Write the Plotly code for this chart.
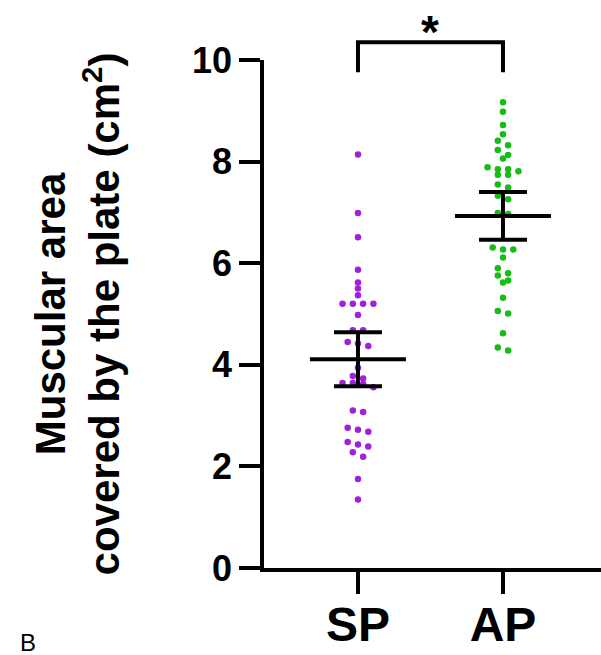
import plotly.graph_objects as go

# ---------------- data ----------------
groups = ["SP", "AP"]
sp_values = [8.14, 6.99, 6.51, 5.87, 5.62, 5.50, 5.37, 5.20, 5.20, 5.20, 5.20,
             4.98, 4.68, 4.68, 4.45, 4.42, 4.37, 3.94, 3.78, 3.73, 3.64, 3.64,
             3.62, 3.56, 3.10, 3.07, 2.76, 2.72, 2.68, 2.48, 2.43, 2.39, 2.28,
             2.19, 1.75, 1.35]
ap_values = [9.17, 8.98, 8.72, 8.54, 8.41, 8.32, 8.23, 8.13, 8.06, 7.89, 7.85,
             7.85, 7.81, 7.74, 7.74, 7.55, 7.49, 7.33, 7.26, 6.99, 6.97, 6.31,
             6.27, 6.27, 6.11, 5.90, 5.80, 5.76, 5.66, 5.62, 5.32, 5.06, 5.01,
             4.62, 4.34, 4.28]
means = [4.11, 6.93]
ci_low = [3.58, 6.46]
ci_high = [4.64, 7.40]
y_ticks = [0, 2, 4, 6, 8, 10]
significance = "*"

# ---------------- layout constants ----------------
W, H = 601, 655
M_L, M_R, M_T, M_B = 264, 0, 60, 87
X_RANGE = [-0.648, 1.676]
Y_RANGE = [0, 10]
px_per_x = (W - M_L - M_R) / (X_RANGE[1] - X_RANGE[0])
px_per_y = (H - M_T - M_B) / (Y_RANGE[1] - Y_RANGE[0])
DOT_STEP_PX = 10.3
GROUP_GAP_PX = 5.5

FONT = "Liberation Sans, Arial, Helvetica, sans-serif"
colors = ["#A020DC", "#14BE14"]


def beeswarm(values, center):
    """Group nearby values into rows and spread each row symmetrically."""
    vals = sorted(values, reverse=True)
    xs, ys = [], []
    i = 0
    while i < len(vals):
        j = i + 1
        while j < len(vals) and (vals[i] - vals[j]) * px_per_y <= GROUP_GAP_PX:
            j += 1
        row = vals[i:j]
        n = len(row)
        for k, v in enumerate(row):
            off_px = (k - (n - 1) / 2) * DOT_STEP_PX
            xs.append(center + off_px / px_per_x)
            ys.append(v)
        i = j
    return xs, ys


fig = go.Figure()
for gi, vals in enumerate([sp_values, ap_values]):
    xs, ys = beeswarm(vals, gi)
    fig.add_trace(go.Scatter(
        x=xs, y=ys, mode="markers",
        marker=dict(color=colors[gi], size=6.5, line=dict(width=0)),
        showlegend=False, cliponaxis=False, hoverinfo="y",
    ))

# mean and CI bars
MEAN_HALF = 48 / px_per_x
CAP_HALF = 24 / px_per_x
LW = 4
for gi in range(len(groups)):
    fig.add_shape(type="line", xref="x", yref="y", x0=gi - MEAN_HALF, x1=gi + MEAN_HALF,
                  y0=means[gi], y1=means[gi], line=dict(color="black", width=LW))
    fig.add_shape(type="line", xref="x", yref="y", x0=gi - CAP_HALF, x1=gi + CAP_HALF,
                  y0=ci_high[gi], y1=ci_high[gi], line=dict(color="black", width=LW))
    fig.add_shape(type="line", xref="x", yref="y", x0=gi - CAP_HALF, x1=gi + CAP_HALF,
                  y0=ci_low[gi], y1=ci_low[gi], line=dict(color="black", width=LW))
    fig.add_shape(type="line", xref="x", yref="y", x0=gi, x1=gi,
                  y0=ci_low[gi], y1=ci_high[gi], line=dict(color="black", width=LW))

# significance bracket (y in paper units above the axis)
br_bottom, br_top = 0.976, 1.035
fig.add_shape(type="path", xref="x", yref="paper",
              path=f"M 0 {br_bottom} L 0 {br_top} L 1 {br_top} L 1 {br_bottom}",
              line=dict(color="black", width=LW))
fig.add_annotation(x=0.5, xref="x", y=1.0, yref="paper", text=significance,
                   showarrow=False, xanchor="center", yanchor="bottom",
                   font=dict(family=FONT, size=46, color="black", weight="bold"))

fig.add_annotation(x=-0.70, xref="paper", y=-0.146, yref="paper", text="B",
                   showarrow=False, xanchor="center", yanchor="middle",
                   font=dict(family=FONT, size=24, color="black"))

fig.update_layout(
    template="none",
    width=W, height=H,
    margin=dict(l=M_L, r=M_R, t=M_T, b=M_B, pad=0),
    paper_bgcolor="white", plot_bgcolor="white",
    font=dict(family=FONT, color="black"),
    xaxis=dict(
        automargin=False,
        range=X_RANGE, tickmode="array", tickvals=list(range(len(groups))), ticktext=groups,
        showline=True, linecolor="black", linewidth=3.5, showgrid=False, zeroline=False,
        ticks="outside", ticklen=22, tickwidth=3.5, tickcolor="black",
        ticklabelstandoff=-10,
        tickfont=dict(family=FONT, size=48, color="black", weight="bold"),
    ),
    yaxis=dict(
        automargin=False,
        range=Y_RANGE, tickmode="array", tickvals=y_ticks,
        showline=True, linecolor="black", linewidth=3.5, showgrid=False, zeroline=False,
        ticks="outside", ticklen=21, tickwidth=3.5, tickcolor="black",
        tickfont=dict(family=FONT, size=36, color="black", weight="bold"),
        title=dict(text="Muscular area<br>covered by the plate (cm<sup>2</sup>)",
                   font=dict(family=FONT, size=42, color="black", weight="bold"),
                   standoff=60),
    ),
)

fig.write_html("out.html",
               config={"displayModeBar": False},
               post_script="document.body.style.margin='0';document.body.style.padding='0';")
